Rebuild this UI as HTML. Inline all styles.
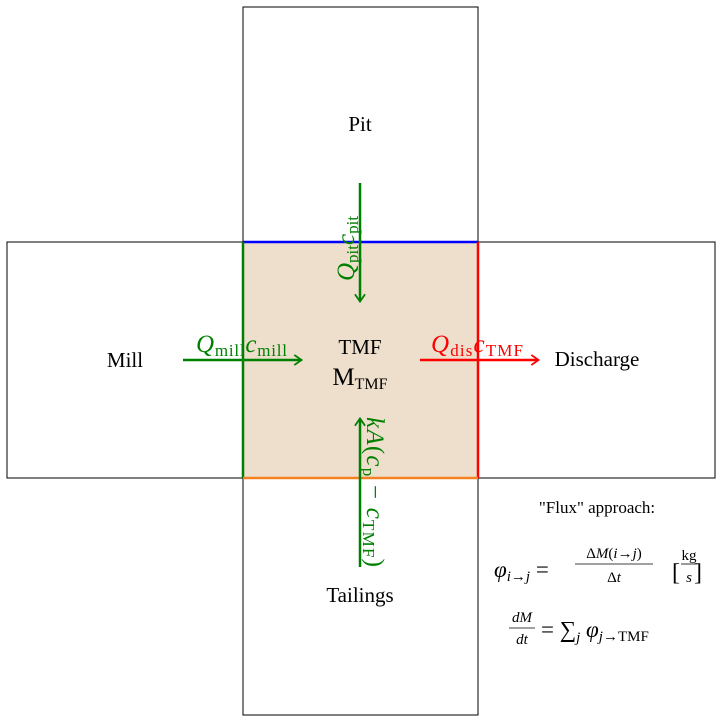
<!DOCTYPE html>
<html><head><meta charset="utf-8"><style>
body{margin:0;background:#fff}
svg{display:block;font-family:"Liberation Serif",serif}
.m{font-style:italic}
</style></head><body>
<svg width="722" height="722" viewBox="0 0 722 722">
<defs>
<marker id="ag" viewBox="0 0 10 10" refX="8" refY="5" markerWidth="4.5" markerHeight="4.5" orient="auto"><path d="M2,0.5 L8.5,5 L2,9.5" fill="none" stroke="#008000" stroke-width="1.6"/></marker>
<marker id="ar" viewBox="0 0 10 10" refX="8" refY="5" markerWidth="4.5" markerHeight="4.5" orient="auto"><path d="M2,0.5 L8.5,5 L2,9.5" fill="none" stroke="#ff0000" stroke-width="1.6"/></marker>
</defs>
<g fill="none" stroke="#000" stroke-width="1">
<rect x="243" y="7" width="235" height="235"/>
<rect x="7" y="242" width="236" height="236"/>
<rect x="478" y="242" width="237" height="236"/>
<rect x="243" y="478" width="235" height="237"/>
</g>
<rect x="243" y="242" width="235" height="236" fill="#eedfcc"/>
<line x1="243" y1="242" x2="478" y2="242" stroke="#0000ff" stroke-width="2.5"/>
<line x1="243" y1="242" x2="243" y2="478" stroke="#008000" stroke-width="2.5"/>
<line x1="478" y1="242" x2="478" y2="478" stroke="#ff0000" stroke-width="2.5"/>
<line x1="243" y1="478" x2="478" y2="478" stroke="#f58220" stroke-width="2.5"/>
<line x1="183" y1="360" x2="301" y2="360" stroke="#008000" stroke-width="2.5" marker-end="url(#ag)"/>
<line x1="360" y1="183" x2="360" y2="301" stroke="#008000" stroke-width="2.5" marker-end="url(#ag)"/>
<line x1="420" y1="360" x2="538" y2="360" stroke="#ff0000" stroke-width="2.5" marker-end="url(#ar)"/>
<line x1="360" y1="567" x2="360" y2="419" stroke="#008000" stroke-width="2.5" marker-end="url(#ag)"/>
<g font-size="21" text-anchor="middle" fill="#000">
<text x="360" y="131">Pit</text>
<text x="125" y="367">Mill</text>
<text x="597" y="366">Discharge</text>
<text x="360" y="602">Tailings</text>
<text x="360" y="354">TMF</text>
<text x="360" y="385" font-size="25">M<tspan font-size="16" dy="4">TMF</tspan></text>
</g>
<g font-size="25" fill="#008000">
<text x="196" y="352" textLength="91"><tspan class="m">Q</tspan><tspan font-size="17" dy="4">mill</tspan><tspan class="m" dy="-4">c</tspan><tspan font-size="17" dy="4">mill</tspan></text>
<text transform="translate(354,281) rotate(-90)"><tspan class="m">Q</tspan><tspan font-size="17" dy="4">pit</tspan><tspan class="m" dy="-4">c</tspan><tspan font-size="17" dy="4">pit</tspan></text>
<text transform="translate(367,417) rotate(90)" textLength="150"><tspan class="m">kA</tspan>(<tspan class="m">c</tspan><tspan font-size="17" dy="4">p</tspan><tspan dy="-4"> − </tspan><tspan class="m">c</tspan><tspan font-size="17" dy="4">TMF</tspan><tspan dy="-4">)</tspan></text>
</g>
<text x="431" y="352" font-size="25" fill="#ff0000" textLength="92"><tspan class="m">Q</tspan><tspan font-size="17" dy="4">dis</tspan><tspan class="m" dy="-4">c</tspan><tspan font-size="17" dy="4">TMF</tspan></text>
<g fill="#000" text-anchor="middle">
<text x="597" y="513" font-size="17">"Flux" approach:</text>
<g>
<text x="494" y="577" font-size="23" text-anchor="start"><tspan class="m">φ</tspan><tspan font-size="15" dy="4" class="m">i→j</tspan><tspan dy="-4"> =</tspan></text>
<text x="614" y="558" font-size="15">Δ<tspan class="m">M</tspan>(<tspan class="m">i</tspan>→<tspan class="m">j</tspan>)</text>
<line x1="575" y1="564" x2="653" y2="564" stroke="#000" stroke-width="0.8"/>
<text x="614" y="582" font-size="15">Δ<tspan class="m">t</tspan></text>
<text x="672" y="580" font-size="24" text-anchor="start">[</text>
<text x="689" y="560" font-size="15">kg</text>
<line x1="681" y1="564" x2="697" y2="564" stroke="#000" stroke-width="0.8"/>
<text x="689" y="582" font-size="15" class="m">s</text>
<text x="694" y="580" font-size="24" text-anchor="start">]</text>
</g>
<g>
<text x="522" y="622" font-size="15" class="m">dM</text>
<line x1="509" y1="628" x2="535" y2="628" stroke="#000" stroke-width="0.8"/>
<text x="522" y="644" font-size="15" class="m">dt</text>
<text x="541" y="637" font-size="23" text-anchor="start">= ∑<tspan font-size="15" dy="5" class="m">j</tspan><tspan dy="-5" class="m"> φ</tspan><tspan font-size="15" dy="4"><tspan class="m">j</tspan>→TMF</tspan></text>
</g>
</g>
</svg>
</body></html>
